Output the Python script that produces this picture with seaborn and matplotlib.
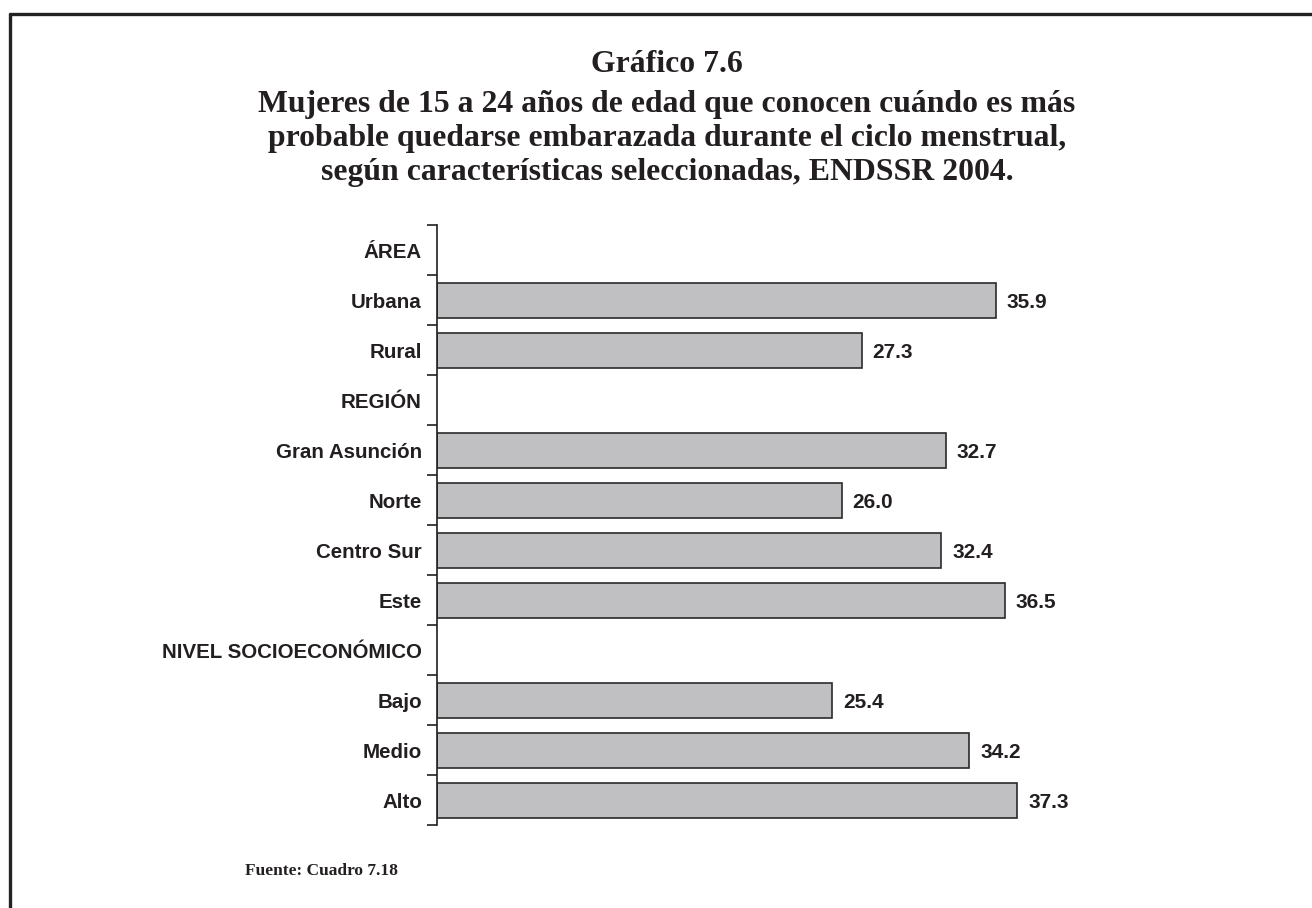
import matplotlib
matplotlib.use("Agg")
import matplotlib.pyplot as plt
from matplotlib.lines import Line2D
import numpy as np
import pandas as pd
import seaborn as sns

# categorias (con filas de encabezado sin barra)
categorias = ["ÁREA", "Urbana", "Rural", "REGIÓN", "Gran Asunción", "Norte",
              "Centro Sur", "Este", "NIVEL SOCIOECONÓMICO", "Bajo", "Medio", "Alto"]
grupos = ["Urbana", "Rural", "Gran Asunción", "Norte", "Centro Sur", "Este",
          "Bajo", "Medio", "Alto"]
valores = [35.9, 27.3, 32.7, 26.0, 32.4, 36.5, 25.4, 34.2, 37.3]

titulo = ["Gráfico 7.6",
          "Mujeres de 15 a 24 años de edad que conocen cuándo es más",
          "probable quedarse embarazada durante el ciclo menstrual,",
          "según características seleccionadas, ENDSSR 2004."]
fuente = "Fuente: Cuadro 7.18"

df = pd.DataFrame({"grupo": grupos, "valor": valores})

sns.set_style("white")
plt.rcParams["font.family"] = ["Liberation Sans", "DejaVu Sans"]
tinta = "#231f20"

fig = plt.figure(figsize=(13.12, 9.08), dpi=100)
ax = fig.add_axes([437 / 1312, 1 - 825 / 908, (1215 - 437) / 1312, 600 / 908])

sns.barplot(data=df, x="valor", y="grupo", order=categorias, orient="h",
            color="#c0c0c2", edgecolor="#2a2a2a", linewidth=1.2,
            width=0.7, saturation=1, ax=ax)

for y, cat in enumerate(categorias):
    if cat in grupos:
        v = valores[grupos.index(cat)]
        ax.text(v + 0.7, y + 0.04, f"{v:.1f}", va="center", ha="left",
                fontsize=15, fontweight="bold", color=tinta)

ax.set_xlim(0, 50)
ax.set_ylim(len(categorias) - 0.5, -0.5)
ax.set_xlabel("")
ax.set_ylabel("")
ax.set_xticks([])
for s in ["top", "right", "bottom"]:
    ax.spines[s].set_visible(False)
ax.spines["left"].set_color(tinta)
ax.spines["left"].set_linewidth(1.2)

ax.set_yticks(range(len(categorias)))
ax.set_yticklabels(categorias, fontsize=14.8, fontweight="bold", color=tinta)
ax.tick_params(axis="y", which="major", length=0, pad=10.8)
ax.set_yticks(np.arange(-0.5, len(categorias), 1), minor=True)
ax.tick_params(axis="y", which="minor", length=7, width=1.2, color=tinta,
               direction="out", left=True)

serif = ["Liberation Serif", "DejaVu Serif"]
for linea, base in zip(titulo, [72, 112, 146, 180]):
    fig.text(667 / 1312, 1 - base / 908, linea, ha="center", va="baseline",
             family=serif, fontsize=22.9, fontweight="bold", color=tinta)
fig.text(245 / 1312, 1 - 871 / 908, fuente, ha="left", va="center",
         family=serif, fontsize=12.5, fontweight="bold", color=tinta)

# marco
fig.add_artist(Line2D([10 / 1312, 10 / 1312], [0, 1 - 14 / 908],
                      transform=fig.transFigure, color="#222222", lw=2.4))
fig.add_artist(Line2D([10 / 1312, 1], [1 - 14 / 908, 1 - 14 / 908],
                      transform=fig.transFigure, color="#222222", lw=2.4))

fig.savefig("out.png", dpi=100, facecolor="white")
